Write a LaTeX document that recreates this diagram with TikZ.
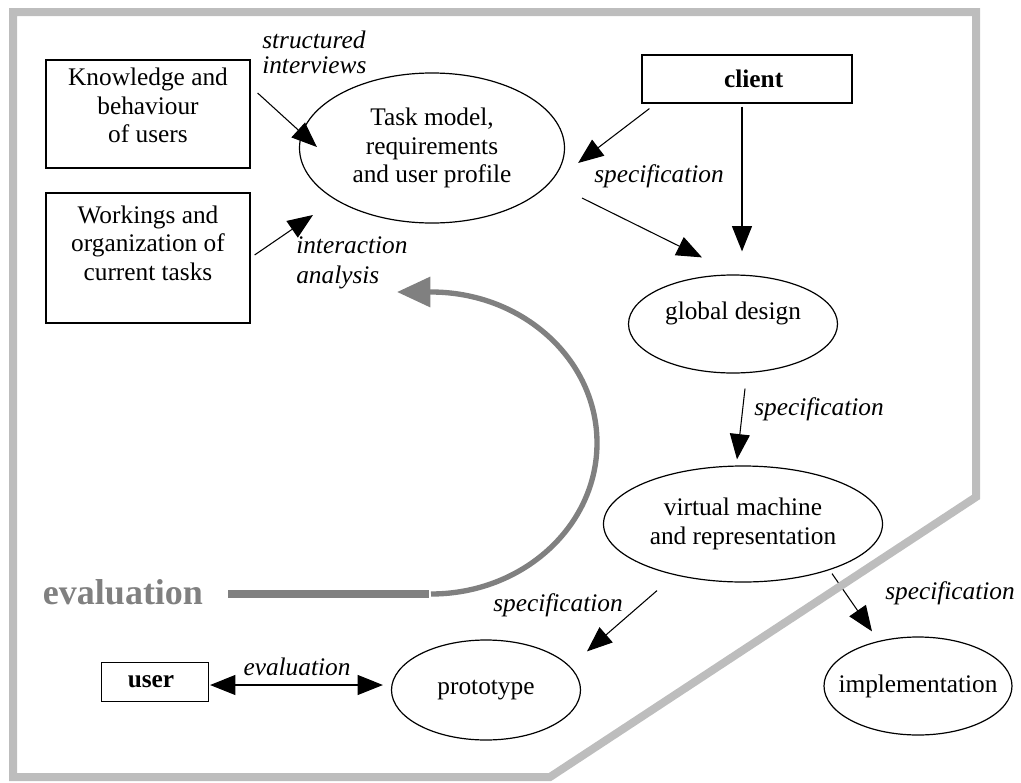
\documentclass[tikz,border=0pt]{standalone}
\usepackage{fontspec}
\setmainfont{Liberation Serif}
\usetikzlibrary{shapes.geometric,arrows.meta,positioning}

\definecolor{framegray}{gray}{0.74}
\definecolor{loopgray}{gray}{0.5}
\newcommand{\boxfont}{\fontsize{19}{21.5}\selectfont}

\begin{document}
\begin{tikzpicture}[x=0.75pt, y=-0.75pt,
        box/.style={rectangle, draw, line width=0.9pt, align=center, inner sep=0pt, font=\boxfont},
        oval/.style={ellipse, draw, line width=0.9pt, align=center, inner sep=0pt, font=\boxfont},
        note/.style={align=left, inner sep=0pt, font=\boxfont\itshape},
        flow/.style={-{Triangle[length=19pt, width=15pt]}, line width=0.8pt},
        both/.style={{Triangle[length=19pt, width=15pt]}-{Triangle[length=19pt, width=15pt]}, line width=0.8pt}]

    \useasboundingbox (0,0) rectangle (1021,782);

    % sources on the left
    \node[box, minimum width=153pt, minimum height=81pt, text depth=12.8pt] (know) at (148,114) {Knowledge and\\behaviour\\of users};
    \node[box, minimum width=153pt, minimum height=97.5pt, text depth=22.5pt] (work) at (148,258) {Workings and\\organization of\\current tasks};

    % main chain
    \node[oval, minimum width=198.75pt, minimum height=112.5pt] (task) at (432,148) {Task model,\\requirements\\and user profile};
    \node[box, minimum width=157.5pt, minimum height=36pt, font=\boxfont\bfseries] (client) at (747,79) {\hspace{10pt}client};
    \node[oval, minimum width=156.75pt, minimum height=73.5pt, text depth=20pt] (glob) at (733,324) {global design};
    \node[oval, minimum width=209.25pt, minimum height=87pt] (vm) at (743,524) {virtual machine\\and representation};
    \node[oval, minimum width=141pt, minimum height=73.5pt] (impl) at (918,686) {\makebox[0pt]{implementation}};
    \node[oval, minimum width=141.75pt, minimum height=75pt] (proto) at (486,690) {prototype};
    \node[box, minimum width=80.25pt, minimum height=29.25pt, font=\boxfont\bfseries] (user) at (155,682) {user\hspace{6pt}};

    % labels
    \node[note, anchor=west, font=\fontsize{19}{19}\selectfont\itshape] (interviews) at (262,52) {structured\\interviews};
    \node[note, anchor=west, font=\fontsize{19}{22.5}\selectfont\itshape] (analysis) at (296,263) {interaction\\analysis};
    \node[note] (spec1) at (659,176) {specification};
    \node[note] (spec2) at (819,409) {specification};
    \node[note] (spec3) at (558,605) {specification};
    \node[note] (spec4) at (950,593) {specification};
    \node[note] (evalnote) at (297,667) {evaluation};
    \node[inner sep=0pt, text=loopgray, font=\fontsize{27}{30}\selectfont\bfseries] (evalbig) at (123,592) {evaluation};

    % arrows
    \draw[flow] ([shift={(7,-21)}]know.east) -- ([shift={(18,-1)}]task.west);
    \draw[flow] ([shift={(4,-3)}]work.east) -- ([shift={(-119,67)}]task.center);
    \draw[flow] ([shift={(8,5)}]client.south west) -- ([shift={(13,15)}]task.east);
    \draw[flow] ([shift={(150,50)}]task.center) -- ([shift={(-31,-17)}]glob.north);
    \draw[flow] ([shift={(-5,3)}]client.south) -- ([shift={(9,-23)}]glob.north);
    \draw[flow] ([shift={(12,15)}]glob.south) -- ([shift={(-6,-6)}]vm.north);
    \draw[flow] ([shift={(-86,8)}]vm.south) -- ([shift={(101,12)}]proto.north);
    \draw[flow] ([shift={(89,-9)}]vm.south) -- ([shift={(-46,-5)}]impl.north);
    \draw[both] ([shift={(1,3)}]user.east) -- ([shift={(-8,-5)}]proto.west);

    % evaluation loop
    \coordinate (loopstart) at (431,594);
    \coordinate (looptip) at (397,292);
    \draw[loopgray, line width=6.5pt] ([shift={(25,2)}]evalbig.east) -- (429,594);
    \draw[loopgray, line width=4pt, -{Triangle[length=25pt, width=22pt]}] (loopstart) arc[start angle=-90, end angle=90, x radius=124.5pt, y radius=113.25pt] -- (looptip);

    % frame
    \draw[framegray, line width=6pt] (13,12) -- (976,12) -- (976,497) -- (550,777) -- (13,777) -- cycle;
\end{tikzpicture}
\end{document}
